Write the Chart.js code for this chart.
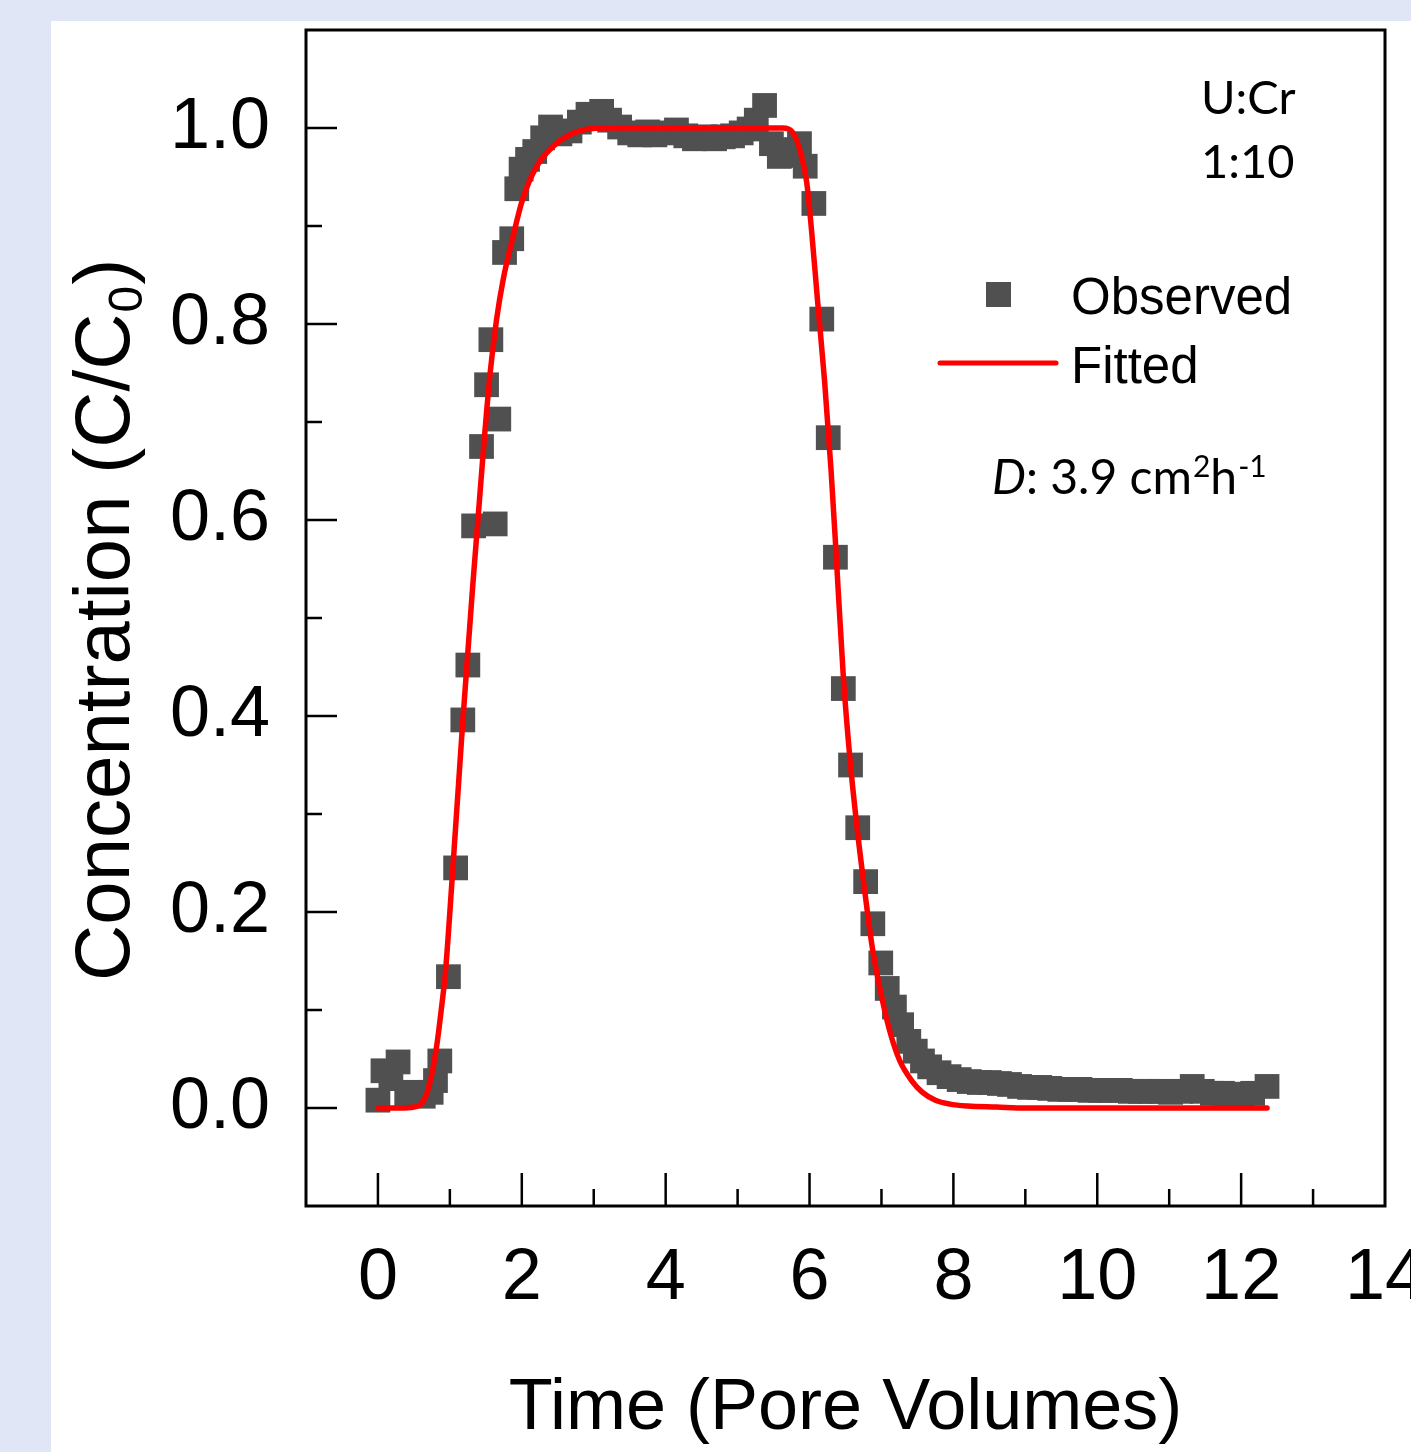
<!DOCTYPE html>
<html>
<head>
<meta charset="utf-8">
<script src="https://cdn.jsdelivr.net/npm/chart.js@4.4.1/dist/chart.umd.min.js"></script>
<style>
html,body{margin:0;padding:0;background:#e0e6f5;overflow:hidden;}
#wrap{position:absolute;left:0;top:0;width:1411px;height:1452px;}
</style>
</head>
<body>
<div id="wrap"><canvas id="c" width="1411" height="1452"></canvas></div>
<script>
// ---- data ----
const obsX = [0.00,0.07,0.18,0.28,0.40,0.52,0.63,0.74,0.80,0.86,
  0.98,1.08,1.18,1.25,1.33,1.44,1.51,1.57,1.63,1.68,1.76,1.86,1.93,1.99,2.08,2.18,2.29,
  2.40,2.53,2.67,2.80,2.92,3.02,3.11,3.22,3.36,3.50,3.64,3.75,3.85,4.00,4.15,4.28,4.40,4.55,4.68,4.80,4.93,5.05,5.16,5.26,5.375,
  5.47,5.58,5.68,5.78,5.86,5.94,6.06,6.17,6.26,6.36,6.47,6.57,6.67,6.78,6.88,6.99,7.08,7.18,7.28,7.38,7.47,7.57,7.67,7.80,7.94,
  8.08,8.22,8.36,8.50,8.64,8.78,8.92,9.06,9.20,9.34,9.48,9.62,9.76,9.90,10.04,10.18,10.32,10.46,10.60,10.74,10.88,11.02,11.16,11.32,11.46,11.60,11.74,11.88,12.02,12.16,12.36];
const obsY = [0.008,0.038,0.030,0.047,0.014,0.016,0.012,0.016,0.028,0.048,
  0.134,0.245,0.396,0.452,0.594,0.675,0.738,0.784,0.596,0.703,0.873,0.887,0.938,0.958,0.968,0.976,0.990,
  1.001,0.994,0.997,1.006,1.014,1.010,1.017,1.008,1.001,0.995,0.993,0.996,0.993,0.995,0.998,0.992,0.989,0.991,0.989,0.991,0.992,0.995,0.999,1.008,1.023,
  0.984,0.971,0.972,0.978,0.984,0.961,0.923,0.805,0.684,0.562,0.428,0.350,0.286,0.231,0.188,0.148,0.122,0.103,0.085,0.068,0.058,0.048,0.042,0.036,0.032,
  0.029,0.027,0.026,0.026,0.025,0.024,0.022,0.021,0.021,0.020,0.019,0.019,0.019,0.018,0.018,0.018,0.018,0.017,0.017,0.017,0.017,0.016,0.017,0.022,0.017,0.015,0.015,0.014,0.014,0.015,0.022];
const fitX = [0,0.3,0.5,0.6,0.68,0.75,0.82,0.88,0.94,1.0,1.06,1.12,1.18,1.25,1.32,1.39,1.47,1.56,1.65,1.74,1.88,2.01,2.2,2.43,2.76,3.13,4.0,5.0,5.63,
  5.76,5.86,5.96,6.03,6.11,6.21,6.30,6.37,6.47,6.57,6.67,6.77,6.87,6.97,7.11,7.25,7.43,7.57,7.75,7.95,8.2,8.6,9.0,10.0,11.0,12.36];
const fitY = [0,0,0.001,0.004,0.015,0.035,0.065,0.10,0.14,0.20,0.265,0.33,0.395,0.465,0.535,0.60,0.675,0.75,0.805,0.845,0.89,0.927,0.96,0.981,0.996,1.0,1.0,1.0,1.0,
  0.996,0.979,0.945,0.894,0.825,0.741,0.65,0.565,0.44,0.35,0.28,0.22,0.165,0.125,0.08,0.049,0.027,0.016,0.008,0.004,0.002,0.001,0,0,0,0];
const xTickLabels = [0,2,4,6,8,10,12,14];
const xMinorTicks = [1,3,5,7,9,11,13];
const yTickLabels = [0.0,0.2,0.4,0.6,0.8,1.0];
const yMinorTicks = [0.1,0.3,0.5,0.7,0.9];
const seriesNames = ['Observed','Fitted'];
const xTitle = 'Time (Pore Volumes)';
const yTitleMain = 'Concentration (C/C';
const yTitleSub = '0';
const yTitleEnd = ')';
const noteLines = ['U:Cr','1:10'];

const observed = obsX.map((x,i)=>({x:x,y:obsY[i]}));
const fitted = fitX.map((x,i)=>({x:x,y:fitY[i]}));

const AX = '"Liberation Sans", Arial, sans-serif';
const CAL = 'Lato, "Open Sans", sans-serif';

const bgPlugin = {
  id:'bg',
  beforeDraw(chart){
    const ctx = chart.ctx;
    ctx.save();
    ctx.fillStyle = '#e0e6f5';
    ctx.fillRect(0,0,chart.width,chart.height);
    ctx.fillStyle = '#ffffff';
    ctx.fillRect(51,21,chart.width-51,chart.height-21);
    ctx.restore();
  }
};

const decorPlugin = {
  id:'decor',
  afterDraw(chart){
    const ctx = chart.ctx;
    const a = chart.chartArea;
    const xs = chart.scales.x, ys = chart.scales.y;
    ctx.save();
    // frame
    ctx.strokeStyle = '#000';
    ctx.lineWidth = 3;
    ctx.strokeRect(a.left, a.top, a.right-a.left, a.bottom-a.top);
    // inward ticks
    ctx.lineWidth = 2.5;
    ctx.beginPath();
    xTickLabels.forEach(v=>{ const p = xs.getPixelForValue(v); if(p>a.left+2 && p<a.right-2){ctx.moveTo(p,a.bottom); ctx.lineTo(p,a.bottom-33);} });
    xMinorTicks.forEach(v=>{ const p = xs.getPixelForValue(v); ctx.moveTo(p,a.bottom); ctx.lineTo(p,a.bottom-17); });
    yTickLabels.forEach(v=>{ const p = ys.getPixelForValue(v); ctx.moveTo(a.left,p); ctx.lineTo(a.left+31,p); });
    yMinorTicks.forEach(v=>{ const p = ys.getPixelForValue(v); ctx.moveTo(a.left,p); ctx.lineTo(a.left+16,p); });
    ctx.stroke();

    // y axis title with subscript
    ctx.save();
    ctx.translate(129, 981);
    ctx.rotate(-Math.PI/2);
    ctx.fillStyle = '#000';
    ctx.textBaseline = 'alphabetic';
    ctx.textAlign = 'left';
    ctx.font = '78px ' + AX;
    ctx.fillText(yTitleMain, 0, 0);
    let w = ctx.measureText(yTitleMain).width;
    ctx.font = '48px ' + AX;
    ctx.fillText(yTitleSub, w+1, 13);
    w += ctx.measureText(yTitleSub).width + 2;
    ctx.font = '78px ' + AX;
    ctx.fillText(yTitleEnd, w, 0);
    ctx.restore();

    // legend (from datasets)
    const ds0 = chart.data.datasets[0], ds1 = chart.data.datasets[1];
    ctx.fillStyle = ds0.pointBackgroundColor;
    ctx.fillRect(986, 282, 25, 25);
    ctx.strokeStyle = ds1.borderColor;
    ctx.lineWidth = 5;
    ctx.lineCap = 'round';
    ctx.beginPath(); ctx.moveTo(940,363); ctx.lineTo(1056,363); ctx.stroke();
    ctx.fillStyle = '#000';
    ctx.font = '51px ' + AX;
    ctx.textAlign = 'left';
    ctx.textBaseline = 'alphabetic';
    ctx.fillText(ds0.label, 1071, 314);
    ctx.fillText(ds1.label, 1071, 383);

    // annotations
    ctx.font = '47px ' + CAL;
    ctx.fillText(noteLines[0], 1201, 114);
    ctx.fillText(noteLines[1], 1201, 178);
    let x = 992; const by = 494;
    ctx.font = 'italic 48px ' + CAL;
    ctx.fillText('D', x, by); x += ctx.measureText('D').width;
    ctx.font = '48px ' + CAL;
    ctx.fillText(': 3.9 cm', x, by); x += ctx.measureText(': 3.9 cm').width + 1;
    ctx.font = '30px ' + CAL;
    ctx.fillText('2', x, by-17); x += ctx.measureText('2').width;
    ctx.font = '48px ' + CAL;
    ctx.fillText('h', x, by); x += ctx.measureText('h').width + 1;
    ctx.font = '30px ' + CAL;
    ctx.fillText('-1', x, by-17);
    ctx.restore();
  }
};

new Chart(document.getElementById('c'), {
  type: 'scatter',
  data: {
    datasets: [
      { label: seriesNames[0], data: observed, showLine: false, pointStyle: 'rect',
        pointRadius: 17.5, pointHoverRadius: 17.5, pointBackgroundColor: '#505050', pointBorderColor: '#505050',
        pointBorderWidth: 0, order: 2 },
      { label: seriesNames[1], data: fitted, showLine: true, borderColor: '#ff0000', borderWidth: 5.5,
        pointRadius: 0, pointHoverRadius: 0, cubicInterpolationMode: 'monotone', fill: false, order: 1,
        borderCapStyle: 'round', borderJoinStyle: 'round' }
    ]
  },
  options: {
    responsive: false,
    animation: false,
    devicePixelRatio: 1,
    layout: { padding: { top: 30, right: 26, left: 0, bottom: 0 } },
    plugins: { legend: { display: false }, tooltip: { enabled: false } },
    scales: {
      x: {
        type: 'linear', min: -1, max: 14,
        grid: { display: false, drawTicks: false },
        border: { display: false },
        ticks: { color: '#000', font: { family: AX, size: 72 }, padding: 30, maxRotation: 0, autoSkip: false,
                 callback: v => String(v) },
        title: { display: true, text: xTitle, color: '#000', font: { family: AX, size: 72 }, padding: { top: 0, bottom: 0 } },
        afterBuildTicks: s => { s.ticks = xTickLabels.map(v => ({ value: v })); },
        afterFit: s => { s.height = 246; s.paddingLeft = 0; s.paddingRight = 0; }
      },
      y: {
        type: 'linear', min: -0.1, max: 1.1,
        grid: { display: false, drawTicks: false },
        border: { display: false },
        ticks: { color: '#000', font: { family: AX, size: 72 }, padding: 36, autoSkip: false,
                 callback: v => Number(v).toFixed(1) },
        afterBuildTicks: s => { s.ticks = yTickLabels.map(v => ({ value: v })); },
        afterFit: s => { s.width = 306; s.paddingTop = 0; s.paddingBottom = 0; }
      }
    }
  },
  plugins: [bgPlugin, decorPlugin]
});
</script>
</body>
</html>
